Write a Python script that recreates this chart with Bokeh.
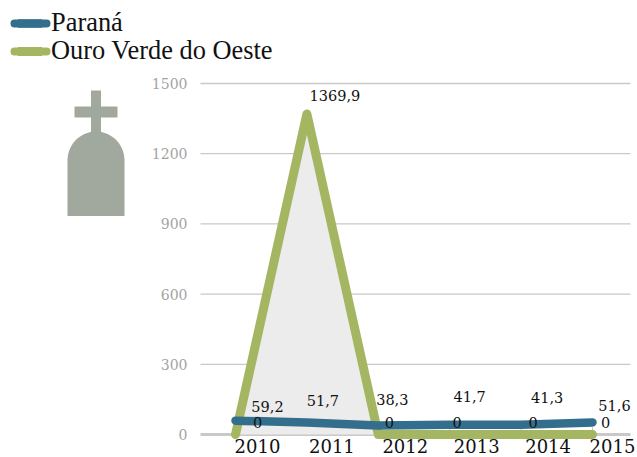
import numpy as np
from bokeh.core.properties import value
from bokeh.embed import file_html
from bokeh.models import ColumnDataSource, FixedTicker, Legend, LegendItem, LinearAxis, Range1d
from bokeh.plotting import figure
from bokeh.resources import INLINE

years = [2010, 2011, 2012, 2013, 2014, 2015]
parana = [59.2, 51.7, 38.3, 41.7, 41.3, 51.6]
ouro_verde = [0, 1369.9, 0, 0, 0, 0]
y_ticks = [0, 300, 600, 900, 1200, 1500]

parana_labels = ["59,2", "51,7", "38,3", "41,7", "41,3", "51,6"]
ouro_labels = ["0", "1369,9", "0", "0", "0", "0"]
year_labels = ["2010", "2011", "2012", "2013", "2014", "2015"]

# offsets in pixels, styling only
parana_dx = [32, 16, 14, 20, 26, 22]
parana_dy = [-14, -22, -26, -28, -27, -17]
ouro_dx = [22, 28, 11, 7.5, 12, 13]
ouro_dy = [-12, -18, -12, -12, -12, -12]
year_dx = [22, 25, 27, 27, 27, 20]

W, H = 637, 457
PX_PER_YEAR = 71.4
PX_PER_UNIT = 0.234
x0_px = 235
y0_px = 434

p = figure(
    width=W, height=H, output_backend="svg", toolbar_location=None,
    min_border=0, outline_line_color=None, background_fill_color="white",
    x_axis_location=None, y_axis_location=None,
    x_range=Range1d(years[0] - x0_px / PX_PER_YEAR, years[0] + (W - x0_px) / PX_PER_YEAR),
    y_range=Range1d(-(H - y0_px) / PX_PER_UNIT, y0_px / PX_PER_UNIT),
)
p.grid.visible = False
p.extra_x_ranges = {"px": Range1d(0, W)}
p.extra_y_ranges = {"px": Range1d(H, 0)}

FONT = "DejaVu Serif"

# grid lines
grid_left = years[0] + (200 - x0_px) / PX_PER_YEAR
grid_right = years[0] + (630 - x0_px) / PX_PER_YEAR
p.segment([grid_left] * 5, y_ticks[1:], [grid_right] * 5, y_ticks[1:], line_color="#c9c9c9", line_width=1.3)
p.segment([grid_left], [0], [grid_right], [0], line_color="#c9c9c9", line_width=3)

# y axis
yaxis = LinearAxis(
    ticker=FixedTicker(ticks=y_ticks), fixed_location=grid_left,
    axis_line_color=None, major_tick_line_color=None, minor_tick_line_color=None,
    major_label_text_color="#a3a3a3", major_label_text_font=FONT,
    major_label_text_font_size="14px", major_label_standoff=7,
)
p.add_layout(yaxis, "left")

# tick marks along the zero line
p.segment(years, [0] * 6, years, [30] * 6, line_color="#c4c4c4", line_width=1)

# area under the peak
p.varea(years, [0] * 6, ouro_verde, fill_color="#ececec")

green = p.line(years, ouro_verde, line_color="#a4b662", line_width=9, line_cap="round", line_join="round")
blue = p.line(years, parana, line_color="#336e8c", line_width=8.5, line_cap="round", line_join="round")

# tombstone icon
theta = np.linspace(np.pi, 0, 40)
body_x = np.concatenate(([67], 95.5 + 28.5 * np.cos(theta), [124]))
body_y = np.concatenate(([215.5], 160 - 29 * np.sin(theta), [215.5]))
ICON = "#a1a99f"
p.patch(body_x, body_y, fill_color=ICON, line_color=None, x_range_name="px", y_range_name="px")
p.quad(left=[90.5, 74], right=[100.5, 117], top=[90, 106], bottom=[135, 117], fill_color=ICON, line_color=None,
       x_range_name="px", y_range_name="px")

# data labels
src_p = ColumnDataSource(dict(x=years, y=parana, t=parana_labels, dx=parana_dx, dy=parana_dy))
src_o = ColumnDataSource(dict(x=years, y=ouro_verde, t=ouro_labels, dx=ouro_dx, dy=ouro_dy))
for src in (src_p, src_o):
    p.text("x", "y", text="t", source=src, x_offset="dx", y_offset="dy",
           text_align="center", text_baseline="middle", text_color="#111111",
           text_font=value(FONT), text_font_size="14.5px")

# year labels
src_y = ColumnDataSource(dict(x=years, y=[0] * 6, t=year_labels, dx=year_dx, dy=[11] * 6))
p.text("x", "y", text="t", source=src_y, x_offset="dx", y_offset="dy",
       text_align="center", text_baseline="middle", text_color="#111111",
       text_font=value(FONT), text_font_size="18px")

# rounded ends of the legend swatches
p.line([14, 46], [23, 23], line_color="#336e8c", line_width=8, line_cap="round", x_range_name="px", y_range_name="px")
p.line([14, 46], [51, 51], line_color="#a4b662", line_width=8, line_cap="round", x_range_name="px", y_range_name="px")

for label, renderer, bottom in (("Paraná", blue, 38), ("Ouro Verde do Oeste", green, 66)):
    legend = Legend(
        items=[LegendItem(label=label, renderers=[renderer])],
        location=(18, H - bottom), orientation="vertical", border_line_color=None, background_fill_alpha=0,
        margin=0, padding=0, spacing=0, glyph_width=24, glyph_height=20, label_height=20, label_standoff=9,
        label_text_font="Liberation Serif", label_text_font_size="26.4px", label_text_color="#111111",
    )
    p.add_layout(legend, "center")

open("out.html", "w").write(file_html(p, INLINE))
